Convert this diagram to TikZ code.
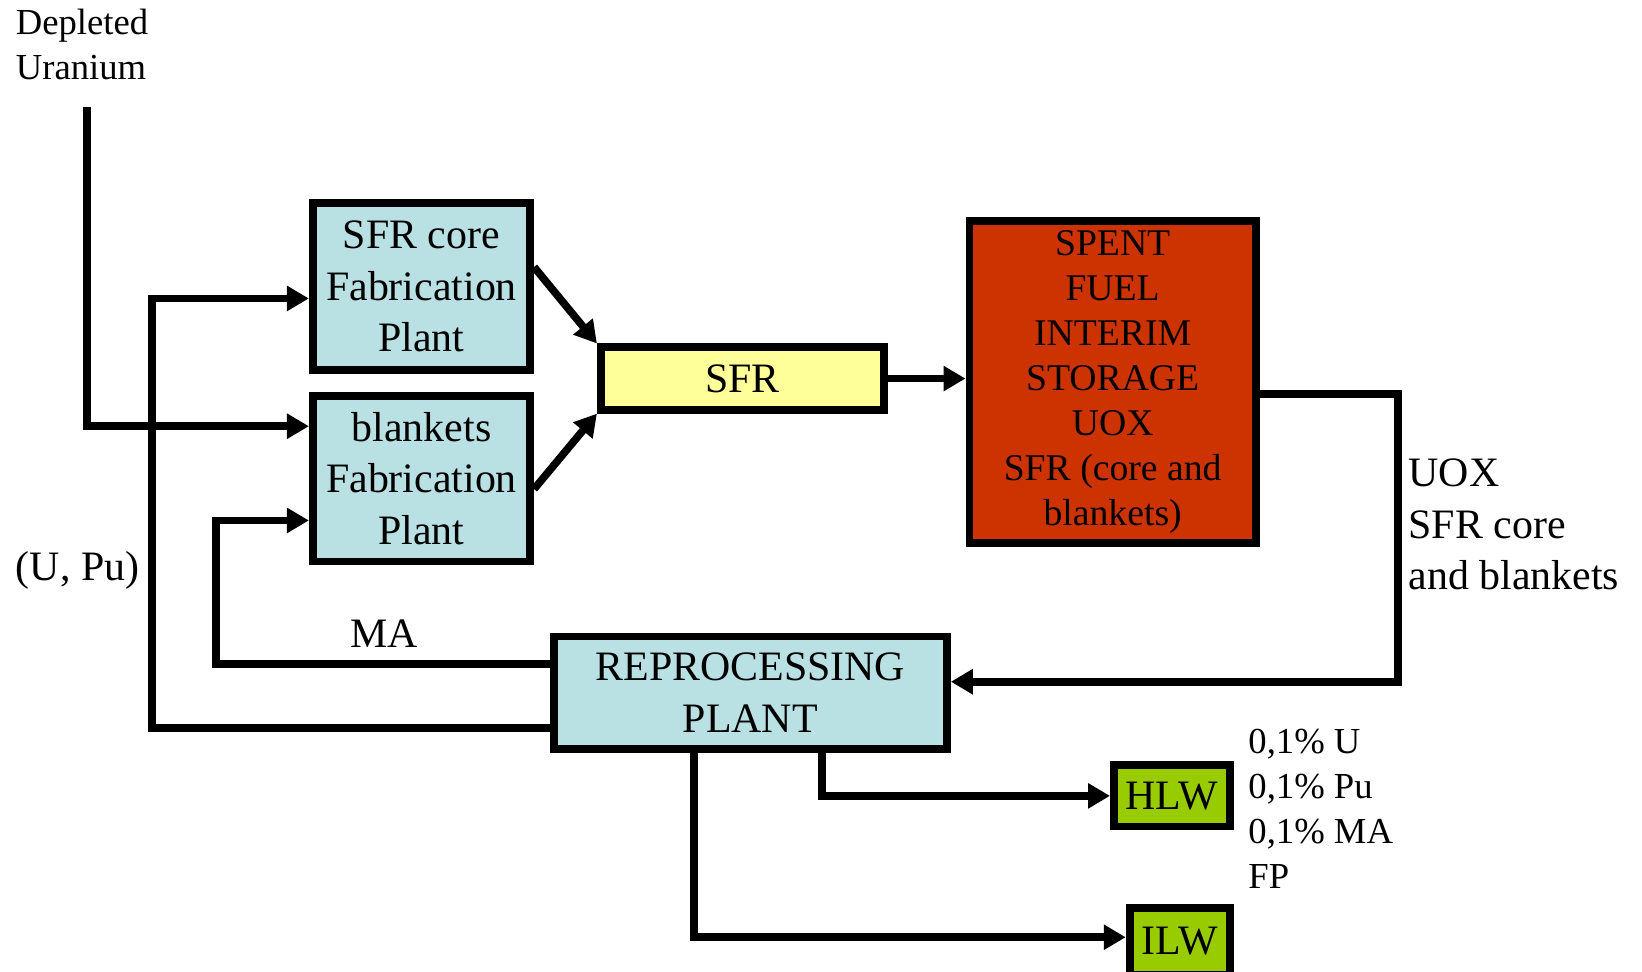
\documentclass[tikz,border=0pt]{standalone}
\usepackage{fontspec}
\setmainfont{Liberation Serif}
\usetikzlibrary{arrows.meta}
\definecolor{plantblue}{RGB}{185,224,227}
\definecolor{reactoryellow}{RGB}{255,255,153}
\definecolor{storagered}{RGB}{204,51,0}
\definecolor{wastegreen}{RGB}{153,204,0}
\begin{document}
\begin{tikzpicture}[x=1pt,y=-1pt,
  box/.style={draw=black,line width=7.5pt,inner sep=0pt,align=center,
    font=\fontsize{40}{49}\selectfont},
  conn/.style={line width=7.3pt,-{Triangle[length=21pt,width=23pt]}},
  lbl/.style={inner sep=0pt,font=\fontsize{40}{49}\selectfont},
  smalllbl/.style={inner sep=0pt,font=\fontsize{35}{43}\selectfont}
]
\clip (0,0) rectangle (1568,928);

% process boxes
\node[box,fill=plantblue,minimum width=207.5,minimum height=159.5] (core) at (402.5,273.5)
  {SFR core\\Fabrication\\Plant};
\node[box,fill=plantblue,minimum width=207.5,minimum height=158.5] (blank) at (402.5,457)
  {blankets\\Fabrication\\Plant};
\node[box,fill=reactoryellow,minimum width=270.5,minimum height=59.5] (sfr) at (709,361.5) {SFR};
\node[box,fill=storagered,minimum width=273.5,minimum height=307.5,
  font=\fontsize{36}{43}\selectfont] (store) at (1062.5,364.5)
  {SPENT\\FUEL\\INTERIM\\STORAGE\\UOX\\SFR (core and\\blankets)};
\node[box,fill=plantblue,minimum width=375.5,minimum height=107.5] (reproc) at (716.5,661.5)
  {REPROCESSING\\PLANT};
\node[box,fill=wastegreen,minimum width=110.5,minimum height=58.5] (hlw) at (1119,760) {HLW};
\node[box,fill=wastegreen,minimum width=95.5,minimum height=64.5] (ilw) at (1126.5,899) {ILW};

% labels
\node[smalllbl,align=left,anchor=west] (du-label) at (15,42) {Depleted\\Uranium};
\node[lbl,anchor=west] (pu-label) at (15,545) {(U, Pu)};
\node[lbl] (ma-label) at (367,605) {MA};
\node[lbl,align=left,anchor=west] (uox-label) at (1345,501) {UOX\\SFR core\\and blankets};
\node[smalllbl,align=left,anchor=west] (hlw-label) at (1192,772)
  {0,1\% U\\0,1\% Pu\\0,1\% MA\\FP};

% routing points
\coordinate (du) at (83,102);
\coordinate (pu) at (145,695);
\coordinate (ma) at (206,634);
\coordinate (rt) at (1335,376);
\coordinate (hl) at (785,758);
\coordinate (il) at (663,895);

% flows
\draw[conn] (du) |- (blank.west |- 0,407);
\draw[conn] (reproc.west |- pu) -- (pu) |- (core.west |- 0,285);
\draw[conn] (reproc.west |- ma) -- (ma) |- (blank.west |- 0,497);
\draw[conn] (core.east |- 0,255) -- (sfr.north west);
\draw[conn] (blank.east |- 0,467) -- (sfr.south west);
\draw[conn] (sfr.east) -- (store.west |- sfr.east);
\draw[conn] (store.east |- rt) -- (rt) |- (reproc.east |- 0,651);
\draw[conn] (reproc.south -| hl) |- (hlw.west);
\draw[conn] (reproc.south -| il) |- (ilw.west |- il);
\end{tikzpicture}
\end{document}
